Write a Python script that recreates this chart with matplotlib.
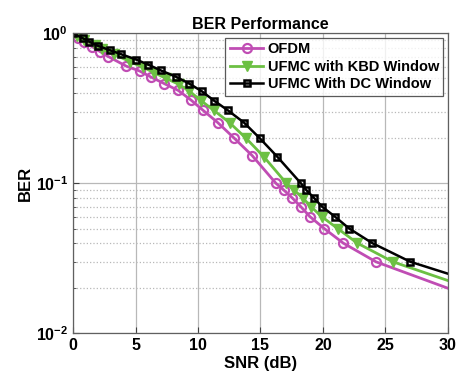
import matplotlib
matplotlib.use("Agg")
import matplotlib.pyplot as plt
from matplotlib.ticker import LogLocator, NullFormatter

plt.rcParams["font.family"] = ["Liberation Sans", "DejaVu Sans"]
plt.rcParams["font.weight"] = "bold"
plt.rcParams["mathtext.fontset"] = "custom"
plt.rcParams["mathtext.rm"] = "Liberation Sans:bold"
plt.rcParams["mathtext.bf"] = "Liberation Sans:bold"

# OFDM
snr_ofdm = [0, 0.4, 0.88, 1.5, 2.16, 2.82, 4.24, 5.32, 6.24, 7.28, 8.42, 9.44,
            10.38, 11.58, 12.9, 14.34, 16.24, 16.88, 17.54, 18.22, 18.96,
            20.1, 21.62, 24.24, 30]
ber_ofdm = [1.0, 0.937, 0.882, 0.817, 0.756, 0.70, 0.605, 0.561, 0.511, 0.463,
            0.416, 0.359, 0.308, 0.254, 0.2, 0.153, 0.1, 0.09, 0.08, 0.07, 0.06,
            0.05, 0.04, 0.03, 0.02]

# UFMC with KBD window
snr_kbd = [0, 0.34, 0.88, 1.76, 2.34, 3.3, 4.56, 5.62, 6.5, 7.44, 8.44, 9.3,
           10.24, 11.28, 12.52, 13.84, 15.28, 17.08, 17.7, 18.38, 19.04, 19.9,
           21.18, 22.74, 25.6, 30]
ber_kbd = [1.0, 0.959, 0.902, 0.836, 0.782, 0.724, 0.647, 0.593, 0.546, 0.501,
           0.458, 0.412, 0.356, 0.306, 0.254, 0.2, 0.15, 0.1, 0.09, 0.08, 0.07,
           0.06, 0.05, 0.04, 0.03, 0.0225]

# UFMC with DC window
snr_dc = [0, 0.78, 1.3, 1.98, 2.96, 3.84, 5.04, 6.0, 7.0, 8.2, 9.28, 10.3,
          11.3, 12.38, 13.68, 14.94, 16.36, 18.24, 18.68, 19.28, 19.92, 20.96,
          22.1, 23.94, 27.0, 30]
ber_dc = [1.0, 0.927, 0.879, 0.826, 0.771, 0.726, 0.669, 0.619, 0.567, 0.515,
          0.463, 0.411, 0.355, 0.307, 0.254, 0.2, 0.15, 0.1, 0.09, 0.08, 0.07,
          0.06, 0.05, 0.04, 0.03, 0.025]

C_OFDM = "#c04db4"
C_KBD = "#6cc043"
C_DC = "#000000"

fig = plt.figure(figsize=(4.57, 3.81), dpi=100)
ax = fig.add_axes([0.16, 0.125, 0.82, 0.7875])

ax.semilogy(snr_ofdm, ber_ofdm, color=C_OFDM, lw=2, marker="o", ms=6.5,
            mfc="none", mew=1.6, markevery=slice(0, -1), label="OFDM")
ax.semilogy(snr_kbd, ber_kbd, color=C_KBD, lw=2, marker="v", ms=6.5,
            mfc=C_KBD, markevery=slice(0, -1), label="UFMC with KBD Window")
ax.semilogy(snr_dc, ber_dc, color=C_DC, lw=1.8, marker="s", ms=4.5,
            mfc="none", mew=1.8, markevery=slice(0, -1), label="UFMC With DC Window")

ax.set_xlim(0, 30)
ax.set_ylim(1e-2, 1)
ax.set_xticks(range(0, 31, 5))
ax.set_yticks([1e-2, 1e-1, 1])
ax.set_yticklabels([r"$10^{-2}$", r"$10^{-1}$", r"$10^{0}$"])
ax.yaxis.set_minor_locator(LogLocator(base=10, subs=range(2, 10)))
ax.yaxis.set_minor_formatter(NullFormatter())

ax.grid(True, which="major", color="#b8b8b8", lw=0.9, ls="-")
ax.grid(True, which="minor", axis="y", color="#b8b8b8", lw=0.9, ls=":")
ax.tick_params(axis="both", which="both", direction="in", labelsize=11.5,
               colors="#404040", labelcolor="black")
ax.tick_params(axis="both", which="major", length=4)
ax.tick_params(axis="y", which="minor", length=2)
for lab in ax.get_xticklabels():
    lab.set_fontweight("bold")
for s in ax.spines.values():
    s.set_color("#606060")
    s.set_linewidth(0.9)

ax.set_xlabel("SNR (dB)", fontsize=12, fontweight="bold", labelpad=2)
ax.set_ylabel("BER", fontsize=12, fontweight="bold", labelpad=2)
ax.set_title("BER Performance", fontsize=11.5, fontweight="bold", pad=3)

leg = ax.legend(loc="upper right", fontsize=10.5, frameon=True, fancybox=False,
                edgecolor="#303030", handlelength=2.3, borderpad=0.3,
                labelspacing=0.25, handletextpad=0.3, borderaxespad=0.3)
leg.get_frame().set_linewidth(0.9)
for t in leg.get_texts():
    t.set_fontweight("bold")

fig.savefig("out.png", dpi=100)
